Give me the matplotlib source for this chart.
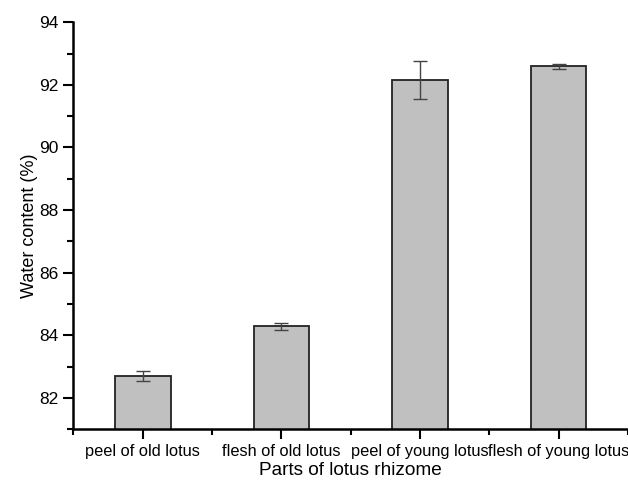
import numpy as np
import matplotlib.pyplot as plt
from matplotlib.ticker import MultipleLocator

plt.rcParams['font.family'] = ['Liberation Sans', 'DejaVu Sans']

categories = ['peel of old lotus', 'flesh of old lotus', 'peel of young lotus', 'flesh of young lotus']
water_content = [82.72, 84.29, 92.16, 92.59]
errors = [0.16, 0.12, 0.61, 0.09]

fig = plt.figure(figsize=(6.28, 4.82), dpi=100)
ax = fig.add_axes([0.117, 0.109, 0.883, 0.845])

x = np.arange(1, len(categories) + 1)
ax.bar(x, water_content, width=0.4, color='#c0c0c0', edgecolor='#222222', linewidth=1.3, zorder=2)
ax.errorbar(x, water_content, yerr=errors, fmt='none', ecolor='#444444',
            elinewidth=1.0, capsize=5, capthick=1.0, zorder=3)

ax.set_xlim(0.5, 4.5)
ax.set_ylim(81, 94)
ax.set_xticks(x)
ax.set_xticklabels(categories, fontsize=11.8)
ax.xaxis.set_minor_locator(MultipleLocator(1.0, offset=0.5))
ax.yaxis.set_major_locator(MultipleLocator(2))
ax.yaxis.set_minor_locator(MultipleLocator(1))
ax.tick_params(axis='y', labelsize=12.5)

for side in ['top', 'right']:
    ax.spines[side].set_visible(False)
for side in ['left', 'bottom']:
    ax.spines[side].set_linewidth(1.8)

ax.tick_params(which='major', length=7, width=1.5, direction='out')
ax.tick_params(which='minor', length=4, width=1.5, direction='out')

ax.set_xlabel('Parts of lotus rhizome', fontsize=13.7, labelpad=2)
ax.set_ylabel('Water content (%)', fontsize=13, labelpad=1)

fig.savefig('out.png', dpi=100)
